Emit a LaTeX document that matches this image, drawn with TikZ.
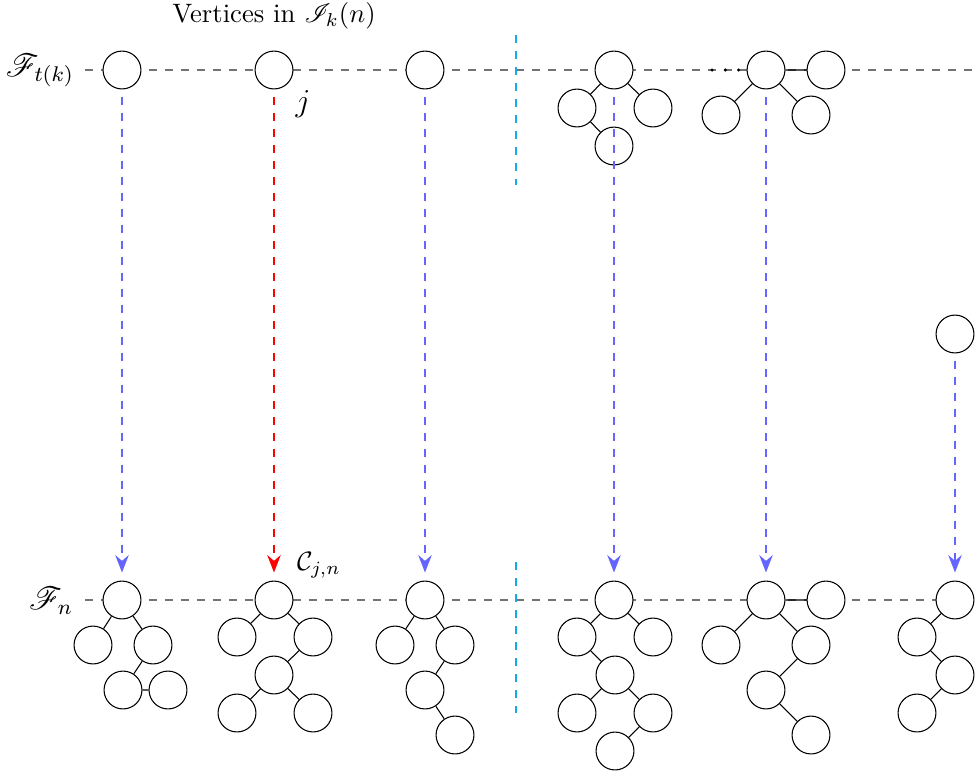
\documentclass[tikz,border=0pt]{standalone}
\usepackage{amsmath,amssymb}
\usepackage{mathrsfs}
\usetikzlibrary{arrows.meta,backgrounds}
\definecolor{sepcyan}{RGB}{20,172,230}
\definecolor{flowblue}{RGB}{100,100,255}
\tikzset{
  vtx/.style={circle, draw=black, fill=white, minimum size=0.5cm, inner sep=0pt},
  level/.style={line width=1.1pt, dashed, black!55},
  sepline/.style={thick, dashed, sepcyan},
  flow/.style={line width=1.05pt, dashed, -{Stealth[length=6.5pt,width=5pt]}, shorten <=3pt, shorten >=3pt},
  edge/.style={black, thin},
  ellipsis/.style={line width=1.3pt, line cap=round, dash pattern=on 0pt off 5pt, black},
}
\begin{document}
\begin{tikzpicture}[x=0.0132cm, y=-0.0132cm]
\useasboundingbox (0,0) rectangle (980,771);

% level lines and separators
\coordinate (L1) at (85,70);  \coordinate (R1) at (980,70);
\coordinate (L2) at (85,600); \coordinate (R2) at (980,600);
\coordinate (S1t) at (516,35);  \coordinate (S1b) at (516,185);
\coordinate (S2t) at (516,562); \coordinate (S2b) at (516,713);
\coordinate (D1) at (712,70); \coordinate (D2) at (741,70);

% ---- forest at time t(k)
\node[vtx] (t1) at (122,70) {};
\node[vtx] (t2) at (274,70) {};
\node[vtx] (t3) at (425,70) {};
\node[vtx] (t4) at (614,70) {};
\node[vtx] (t4a) at (577,108) {};
\node[vtx] (t4b) at (653,108) {};
\node[vtx] (t4c) at (614,146) {};
\node[vtx] (t5) at (766,70) {};
\node[vtx] (t5s) at (826,70) {};
\node[vtx] (t5a) at (721,115) {};
\node[vtx] (t5b) at (811,115) {};
\node[vtx] (t6) at (955,334) {};

% ---- forest at time n
\node[vtx] (b1) at (122,600) {};
\node[vtx] (b1a) at (93,645) {};
\node[vtx] (b1b) at (153,645) {};
\node[vtx] (b1c) at (123,690) {};
\node[vtx] (b1d) at (168,690) {};

\node[vtx] (b2) at (274,600) {};
\node[vtx] (b2a) at (237,637) {};
\node[vtx] (b2b) at (313,637) {};
\node[vtx] (b2c) at (274,675) {};
\node[vtx] (b2d) at (237,713) {};
\node[vtx] (b2e) at (313,713) {};

\node[vtx] (b3) at (425,600) {};
\node[vtx] (b3a) at (395,645) {};
\node[vtx] (b3b) at (455,645) {};
\node[vtx] (b3c) at (425,690) {};
\node[vtx] (b3d) at (455,735) {};

\node[vtx] (b4) at (614,600) {};
\node[vtx] (b4a) at (577,637) {};
\node[vtx] (b4b) at (653,637) {};
\node[vtx] (b4c) at (615,675) {};
\node[vtx] (b4d) at (577,713) {};
\node[vtx] (b4e) at (653,713) {};
\node[vtx] (b4f) at (615,751) {};

\node[vtx] (b5) at (766,600) {};
\node[vtx] (b5s) at (826,600) {};
\node[vtx] (b5a) at (721,645) {};
\node[vtx] (b5b) at (811,645) {};
\node[vtx] (b5c) at (766,690) {};
\node[vtx] (b5d) at (811,735) {};

\node[vtx] (b6) at (955,600) {};
\node[vtx] (b6a) at (917,637) {};
\node[vtx] (b6b) at (955,675) {};
\node[vtx] (b6c) at (917,713) {};

\begin{scope}[on background layer]
  \draw[level] (L1) -- (R1);
  \draw[level] (L2) -- (R2);
  \draw[edge] (t4) -- (t4a) (t4) -- (t4b) (t4a) -- (t4c);
  \draw[edge] (t5) -- (t5s) (t5) -- (t5a) (t5) -- (t5b);
  \draw[edge] (b1) -- (b1a) (b1) -- (b1b) (b1b) -- (b1c) (b1c) -- (b1d);
  \draw[edge] (b2) -- (b2a) (b2) -- (b2b) (b2b) -- (b2c) (b2c) -- (b2d) (b2c) -- (b2e);
  \draw[edge] (b3) -- (b3a) (b3) -- (b3b) (b3b) -- (b3c) (b3c) -- (b3d);
  \draw[edge] (b4) -- (b4a) (b4) -- (b4b) (b4a) -- (b4c) (b4c) -- (b4d) (b4c) -- (b4e) (b4e) -- (b4f);
  \draw[edge] (b5) -- (b5s) (b5) -- (b5a) (b5) -- (b5b) (b5b) -- (b5c) (b5c) -- (b5d);
  \draw[edge] (b6) -- (b6a) (b6a) -- (b6b) (b6b) -- (b6c);
\end{scope}

\draw[sepline] (S1t) -- (S1b);
\draw[sepline] (S2t) -- (S2b);

% omitted vertices
\draw[ellipsis] (D1) -- (D2);

% ancestry arrows
\draw[flow, flowblue] (t1.south) -- (b1.north);
\draw[flow, red] (t2.south) -- (b2.north);
\draw[flow, flowblue] (t3.south) -- (b3.north);
\draw[flow, flowblue] (t4.south) -- (b4.north);
\draw[flow, flowblue] (t5.south) -- (b5.north);
\draw[flow, flowblue] (t6.south) -- (b6.north);

% labels
\node (title) at (274,16) {Vertices in $\mathscr{I}_k(n)$};
\node (Ft) at (40,70) {\large $\mathscr{F}_{t(k)}$};
\node (Fn) at (51,601) {\large $\mathscr{F}_{n}$};
\node (jl) at (303,104) {\large $j$};
\node (Cj) at (319,565) {$\mathcal{C}_{j,n}$};
\end{tikzpicture}
\end{document}
